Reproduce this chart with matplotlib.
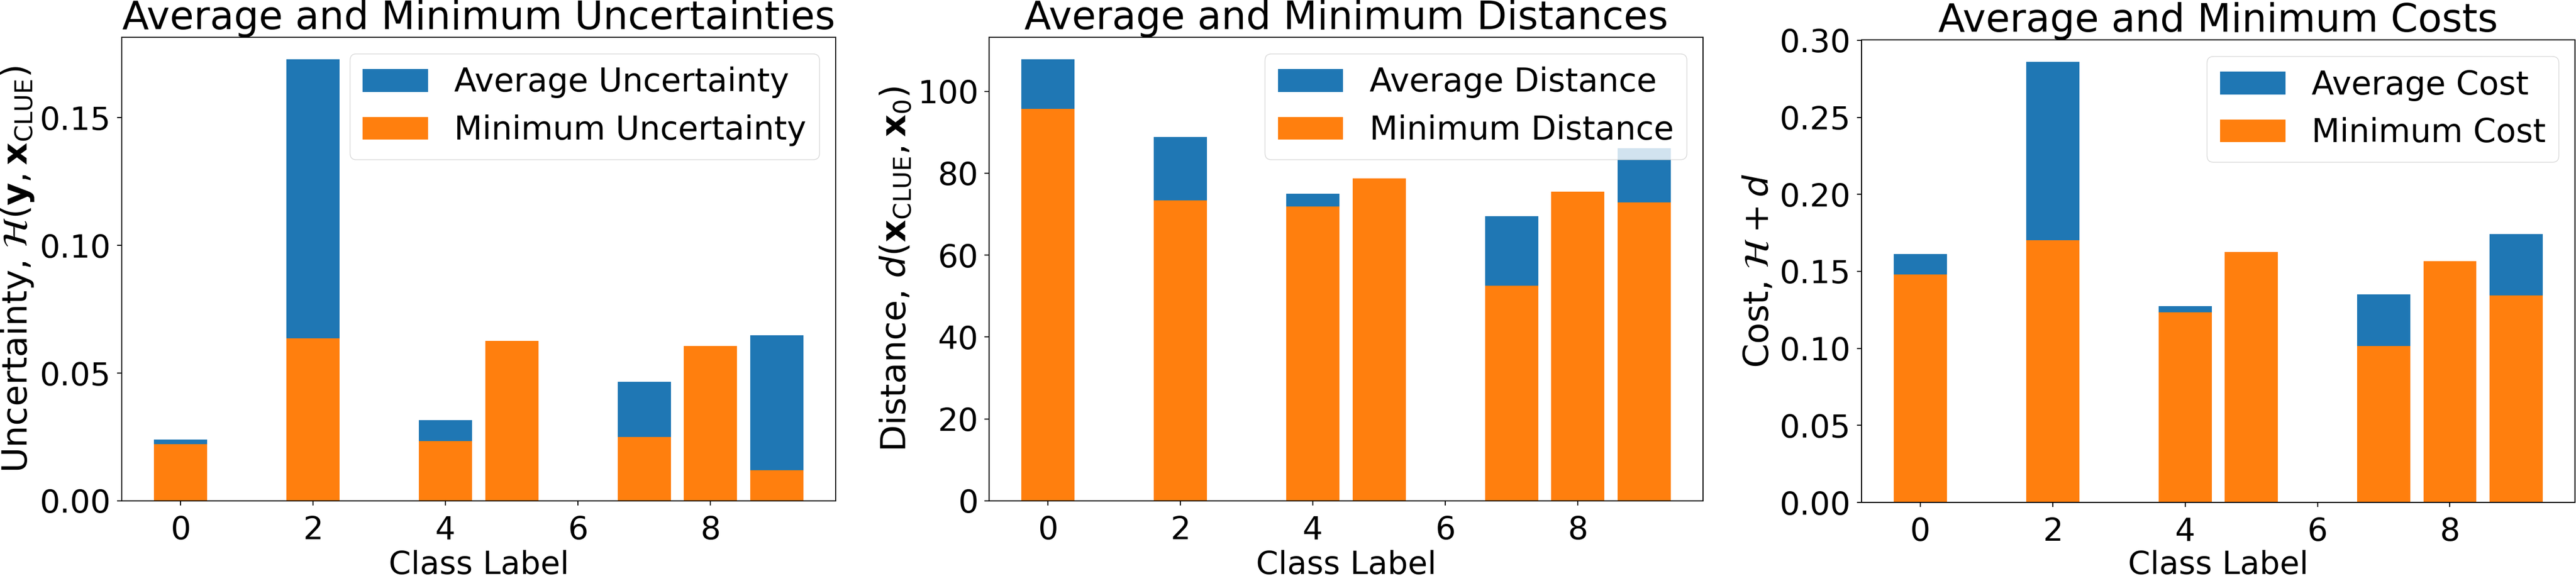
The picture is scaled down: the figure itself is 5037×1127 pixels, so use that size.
import matplotlib
matplotlib.use("Agg")
import matplotlib.pyplot as plt
import numpy as np

classes = [0, 2, 4, 5, 7, 8, 9]
avg_unc = [0.0241, 0.1728, 0.0317, 0.0626, 0.0466, 0.0607, 0.0648]
min_unc = [0.0222, 0.0636, 0.0235, 0.0626, 0.0251, 0.0607, 0.0120]
avg_dist = [107.8, 88.9, 75.0, 78.7, 69.5, 75.5, 86.1]
min_dist = [95.7, 73.4, 71.9, 78.7, 52.5, 75.5, 72.9]
avg_cost = [0.1614, 0.2860, 0.1274, 0.1626, 0.1352, 0.1567, 0.1743]
min_cost = [0.1481, 0.1702, 0.1233, 0.1626, 0.1014, 0.1567, 0.1345]

titles = ["Average and Minimum Uncertainties", "Average and Minimum Distances",
          "Average and Minimum Costs"]
ylabels = [r"Uncertainty, $\mathcal{H}(\mathbf{y}, \mathbf{x}_{\mathrm{CLUE}})$",
           r"Distance, $d(\mathbf{x}_{\mathrm{CLUE}}, \mathbf{x}_0)$",
           r"Cost, $\mathcal{H} + d$"]
avg_labels = ["Average Uncertainty", "Average Distance", "Average Cost"]
min_labels = ["Minimum Uncertainty", "Minimum Distance", "Minimum Cost"]

TITLE_FS = 55
TICK_FS = 45
XLABEL_FS = 45
YLABEL_FS = 49
LEG_FS = 46

W, H = 5037, 1127
fig = plt.figure(figsize=(W / 100, H / 100), dpi=100)
# (left px, top px, right px, bottom px)
boxes = [(238, 73, 1634, 980), (1934, 73, 1330 + 2000, 980), (3640, 78, 5035, 983)]
data = [(avg_unc, min_unc), (avg_dist, min_dist), (avg_cost, min_cost)]
for i, (l, t, r, b) in enumerate(boxes):
    ax = fig.add_axes((l / W, (H - b) / H, (r - l) / W, (b - t) / H))
    a, m = data[i]
    ax.bar(classes, a, label=avg_labels[i], color='C0')
    ax.bar(classes, m, label=min_labels[i], color='C1')
    ax.set_title(titles[i], fontsize=TITLE_FS, pad=10)
    ax.set_xlabel("Class Label", fontsize=XLABEL_FS)
    ax.set_ylabel(ylabels[i], fontsize=YLABEL_FS, labelpad=6)
    ax.tick_params(labelsize=TICK_FS, width=1.5, length=6.5)
    ax.tick_params(axis='x', pad=14)
    ax.tick_params(axis='y', pad=8.5)
    for s in ax.spines.values():
        s.set_linewidth(1.5)
    ax.set_xticks([0, 2, 4, 6, 8])
    # place x label so its baseline sits just inside the bottom edge
    label_top_px = 1124 - 0.76 * XLABEL_FS * 100 / 72
    ax.xaxis.set_label_coords(0.5, -(label_top_px - b) / (b - t))
    ax.legend(loc='upper right', fontsize=LEG_FS)

fig.savefig("out.png", dpi=100)
